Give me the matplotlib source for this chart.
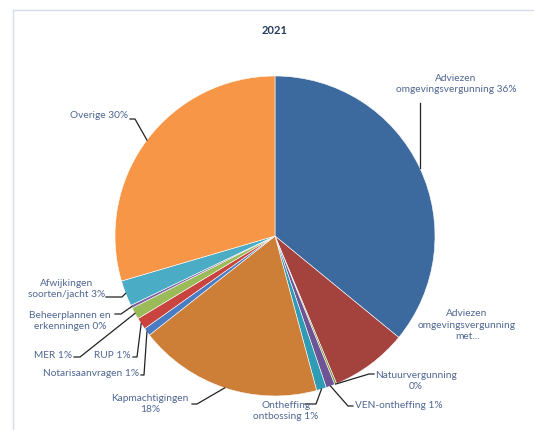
import numpy as np
import matplotlib
matplotlib.use("Agg")
import matplotlib.pyplot as plt
from matplotlib.patches import Rectangle

# ---- data ----
categories = [
    "Adviezen omgevingsvergunning",
    "Adviezen omgevingsvergunning met...",
    "Natuurvergunning",
    "VEN-ontheffing",
    "Ontheffing ontbossing",
    "Kapmachtigingen",
    "Notarisaanvragen",
    "RUP",
    "MER",
    "Beheerplannen en erkenningen",
    "Afwijkingen soorten/jacht",
    "Overige",
]
values = [36.0, 7.8, 0.2, 0.9, 1.0, 18.6, 0.8, 1.2, 1.2, 0.3, 2.6, 29.6]
label_texts = [
    "Adviezen\nomgevingsvergunning 36%",
    "Adviezen\nomgevingsvergunning\nmet...",
    "Natuurvergunning\n0%",
    "VEN-ontheffing 1%",
    "Ontheffing\nontbossing 1%",
    "Kapmachtigingen\n18%",
    "Notarisaanvragen 1%",
    "RUP 1%",
    "MER 1%",
    "Beheerplannen en\nerkenningen 0%",
    "Afwijkingen\nsoorten/jacht 3%",
    "Overige 30%",
]
colors = ["#3d6a9e", "#a4423e", "#77933c", "#6f5495", "#2f9cb5", "#cd7f37",
          "#4a7cc4", "#c9443e", "#9bbb59", "#8064a2", "#4bacc6", "#f79646"]
title = "2021"

# ---- layout (pixel coords, y down) ----
W, H = 534, 430
CX, CY, R = 275, 236, 160
# (text x, text y, ha, attach point, elbow x) ; None attach => no leader
layout = [
    (456, 84, "center", "vertical", None),
    (467, 325, "center", None, None),
    (416, 381, "center", (374, 374), 369),
    (355, 406, "left", (353, 406), 348),
    (286, 411, "center", (305, 404), 316),
    (150, 404, "center", (192, 404), 197),
    (139, 373, "right", (141, 375), 144),
    (131, 356, "right", (133, 357), 137),
    (72, 356, "right", (74, 357), 80),
    (70, 321, "center", (115, 314), 121),
    (67, 289, "center", (106, 297), 122),
    (128, 116, "right", (130, 119), 135),
]

FONT = ["Lato", "DejaVu Sans"]
TXT = "#4f6591"

def Y(y):
    return H - y

fig = plt.figure(figsize=(W / 100, H / 100), dpi=100)
ax = fig.add_axes([0, 0, 1, 1])

wedges, _ = ax.pie(values, colors=colors, startangle=90, counterclock=False,
                   center=(CX, Y(CY)), radius=R,
                   wedgeprops=dict(edgecolor="white", linewidth=0.4))
ax.set_xlim(0, W)
ax.set_ylim(0, H)
ax.set_aspect("equal")
ax.axis("off")

# chart-area border
ax.add_patch(Rectangle((13, Y(445)), 540, 435, fill=False, edgecolor="#d3dcea", lw=1))

ax.text(CX, Y(30), title, ha="center", va="center", fontsize=8, fontweight="bold",
        color="#243b5a", family=FONT)

total = sum(values)
cum = np.cumsum([0] + values) / total * 360.0
for i, (txt, lay) in enumerate(zip(label_texts, layout)):
    tx, ty, ha, attach, elbow = lay
    ax.text(tx, Y(ty), txt, ha=ha, va="center", fontsize=7.3, color=TXT,
            family=FONT, linespacing=1.35, multialignment="center")
    mid = np.deg2rad((cum[i] + cum[i + 1]) / 2)
    axp = CX + R * np.sin(mid)
    ayp = CY - R * np.cos(mid)
    if attach == "vertical":
        ax.plot([axp, axp], [Y(103), Y(ayp)], color="#222222", lw=0.9)
    elif attach is not None:
        xs = [attach[0], elbow, axp]
        ys = [Y(attach[1]), Y(attach[1]), Y(ayp)]
        ax.plot(xs, ys, color="#222222", lw=0.9)

fig.savefig("out.png", dpi=100, facecolor="white")
